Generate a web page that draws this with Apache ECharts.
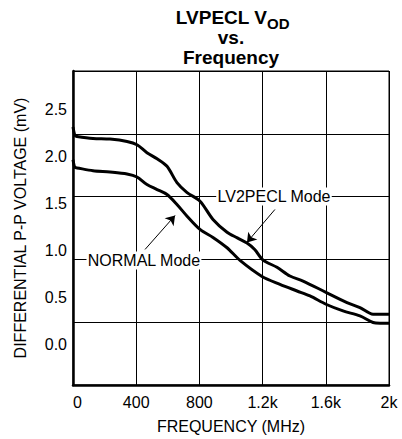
<!DOCTYPE html>
<html>
<head>
<meta charset="utf-8">
<script src="https://cdn.jsdelivr.net/npm/echarts@6/dist/echarts.min.js"></script>
<style>html,body{margin:0;padding:0;background:#fff;}#c{width:402px;height:439px;}</style>
</head>
<body>
<div id="c"></div>
<script>
// ---- data ----
const xTicks = [0, 400, 800, 1200, 1600, 2000];
const xTickLabels = ['0', '400', '800', '1.2k', '1.6k', '2k'];
const yTicks = [0, 0.5, 1.0, 1.5, 2.0, 2.5];

const lv2Freq = [0, 13, 25, 127, 234, 342, 405, 468, 532, 595, 658, 722, 804, 886, 975, 1040, 1101, 1150, 1203, 1291, 1373, 1456, 1601, 1734, 1816, 1899, 1943, 2000];
const lv2Vod  = [2.31, 2.216, 2.209, 2.188, 2.181, 2.156, 2.121, 2.036, 1.972, 1.891, 1.718, 1.612, 1.52, 1.326, 1.19, 1.13, 1.075, 1.007, 0.894, 0.817, 0.724, 0.671, 0.551, 0.442, 0.389, 0.318, 0.318, 0.318];

const normFreq = [0, 13, 25, 127, 234, 342, 405, 468, 532, 595, 658, 722, 804, 886, 975, 1057, 1196, 1310, 1418, 1500, 1601, 1709, 1816, 1899, 1943, 2000];
const normVod  = [1.962, 1.877, 1.874, 1.845, 1.831, 1.81, 1.778, 1.697, 1.644, 1.591, 1.485, 1.361, 1.22, 1.135, 1.025, 0.89, 0.72, 0.636, 0.565, 0.512, 0.424, 0.353, 0.3, 0.23, 0.223, 0.223];

const annotations = [
  { name: 'LV2PECL Mode', at: [1272, 1.569], arrowFrom: [1278, 1.432], arrowTo: [1101, 1.082] },
  { name: 'NORMAL Mode',  at: [449, 0.89],   arrowFrom: [456, 1.007],  arrowTo: [646, 1.368] }
];

// ---- chart ----
const FONT = '"Liberation Sans", Arial, Helvetica, sans-serif';
const zip = (a, b) => a.map((v, i) => [v, b[i]]);
const chart = echarts.init(document.getElementById('c'), null, { renderer: 'svg' });

function annSeriesParts(a) {
  return {
    markLine: {
      silent: true, animation: false,
      symbol: ['none', 'arrow'], symbolSize: 9,
      label: { show: false },
      lineStyle: { color: '#000', width: 1, type: 'solid' },
      data: [[{ coord: a.arrowFrom }, { coord: a.arrowTo }]]
    },
    markPoint: {
      silent: true, animation: false,
      symbol: 'rect', symbolSize: 1,
      itemStyle: { color: 'rgba(0,0,0,0)' },
      label: {
        show: true, position: 'inside', formatter: '{b}',
        color: '#000', fontSize: 16, fontFamily: FONT,
        backgroundColor: '#fff', padding: [1, 1]
      },
      data: [{ name: a.name, coord: a.at }]
    }
  };
}

const titleStyle = { fontSize: 19, fontWeight: 'bold', fontFamily: FONT, color: '#000', lineHeight: 19 };
const option = {
  animation: false,
  backgroundColor: '#fff',
  title: [
    { text: 'LVPECL V', left: 267, top: 7.5, textAlign: 'right', padding: 0, textStyle: titleStyle },
    { text: 'OD', left: 267, top: 16, textAlign: 'left', padding: 0,
      textStyle: { fontSize: 15, fontWeight: 'bold', fontFamily: FONT, color: '#000', lineHeight: 14 } },
    { text: 'vs.', left: 231, top: 27.5, textAlign: 'center', padding: 0, textStyle: titleStyle },
    { text: 'Frequency', left: 231, top: 47.5, textAlign: 'center', padding: 0, textStyle: titleStyle }
  ],
  grid: { left: 73, right: 13, top: 71, bottom: 53, show: true, borderColor: '#000', borderWidth: 1, backgroundColor: 'transparent' },
  xAxis: {
    type: 'value', min: 0, max: 2000, interval: 400,
    axisLine: { show: true, onZero: false, lineStyle: { color: '#000', width: 2.5 } },
    axisTick: { show: false },
    splitLine: { show: true, lineStyle: { color: '#000', width: 1 } },
    axisLabel: { color: '#000', fontSize: 16, fontFamily: FONT, margin: 9, alignMinLabel: 'left',
      formatter: v => xTickLabels[xTicks.indexOf(v)] },
    name: 'FREQUENCY (MHz)', nameLocation: 'middle', nameGap: 33,
    nameTextStyle: { color: '#000', fontSize: 16, fontFamily: FONT }
  },
  yAxis: [
    { type: 'value', min: 0, max: 5, interval: 1,
      axisLine: { show: true, onZero: false, lineStyle: { color: '#000', width: 2.5 } },
      axisTick: { show: false }, axisLabel: { show: false },
      splitLine: { show: true, lineStyle: { color: '#000', width: 1 } } },
    { type: 'value', min: -0.435, max: 2.905, position: 'left',
      axisLine: { show: false }, axisTick: { show: false }, splitLine: { show: false },
      axisLabel: { customValues: yTicks, formatter: v => v.toFixed(1), color: '#000', fontSize: 16, fontFamily: FONT, margin: 6 },
      name: 'DIFFERENTIAL P-P VOLTAGE (mV)', nameLocation: 'middle', nameRotate: 90, nameGap: 45,
      nameTextStyle: { color: '#000', fontSize: 16, fontFamily: FONT } }
  ],
  series: [
    Object.assign({
      type: 'line', name: 'LV2PECL Mode', xAxisIndex: 0, yAxisIndex: 1,
      data: zip(lv2Freq, lv2Vod), smooth: 0.3, showSymbol: false,
      lineStyle: { color: '#000', width: 3 }, z: 3
    }, annSeriesParts(annotations[0])),
    Object.assign({
      type: 'line', name: 'NORMAL Mode', xAxisIndex: 0, yAxisIndex: 1,
      data: zip(normFreq, normVod), smooth: 0.3, showSymbol: false,
      lineStyle: { color: '#000', width: 3 }, z: 3
    }, annSeriesParts(annotations[1]))
  ]
};
chart.setOption(option);
</script>
</body>
</html>
